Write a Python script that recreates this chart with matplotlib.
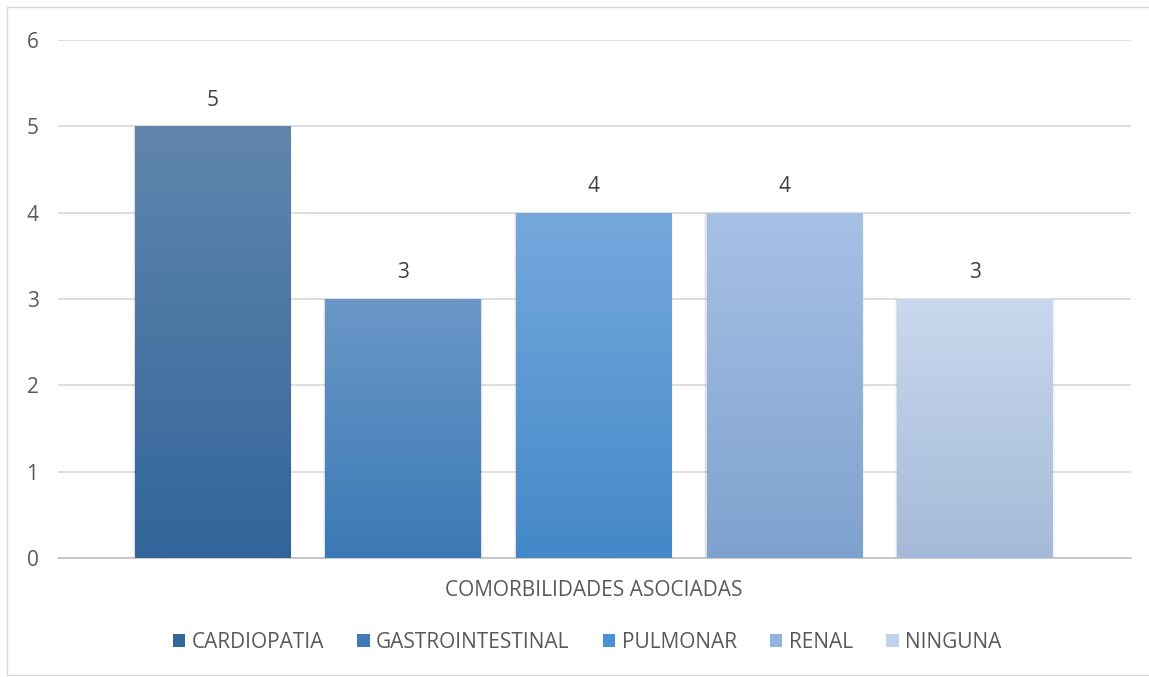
import numpy as np
import matplotlib.pyplot as plt
from matplotlib.colors import LinearSegmentedColormap
from matplotlib.patches import Patch, Rectangle

plt.rcParams['font.family'] = ['Open Sans', 'DejaVu Sans']

categories = ['CARDIOPATIA', 'GASTROINTESTINAL', 'PULMONAR', 'RENAL', 'NINGUNA']
values = [5, 3, 4, 4, 3]
top_colors = ['#6086ad', '#6a98c7', '#76a9dd', '#a7c1e5', '#c8d8ee']
bottom_colors = ['#32659a', '#3b79b6', '#4488c9', '#7ea2ce', '#a5bad8']
legend_colors = ['#336699', '#3e7bb7', '#4a90d5', '#93b2dc', '#c0d3ea']
axis_title = 'COMORBILIDADES ASOCIADAS'

text_color = '#595959'
fs = 14

fig = plt.figure(figsize=(11.49, 6.77), dpi=100)
fig.patches.append(Rectangle((7 / 1149, 2 / 677), 1.2, 1 - 9 / 677,
                             transform=fig.transFigure, fill=False,
                             edgecolor='#d9d9d9', linewidth=1))
ax = fig.add_axes([58 / 1149, 1 - 558 / 677, (1131 - 58) / 1149, (558 - 40) / 677])

width = 0.814
x = np.arange(len(categories))
grad = np.linspace(0, 1, 256).reshape(-1, 1)

for i, (v, c_top, c_bot) in enumerate(zip(values, top_colors, bottom_colors)):
    # soft shadow on the sides of each bar
    for k, a in enumerate([0.08, 0.04]):
        d = 0.006 * (k + 1)
        ax.add_patch(Rectangle((x[i] - width / 2 - d, 0), width + 2 * d, v,
                               facecolor='black', alpha=a, edgecolor='none', zorder=2))
    bar = ax.bar(x[i], v, width=width, color='none', zorder=3)[0]
    cmap = LinearSegmentedColormap.from_list('g%d' % i, [c_bot, c_top])
    im = ax.imshow(grad, cmap=cmap, origin='lower', aspect='auto',
                   extent=[x[i] - width / 2, x[i] + width / 2, 0, v], zorder=3)
    im.set_clip_path(bar)
    ax.text(x[i], v + 0.18, str(v), ha='center', va='bottom', fontsize=fs + 1, color='#404040')

ax.set_xlim(-0.81, 4.82)
ax.set_ylim(0, 6)
ax.set_yticks(range(0, 7))
ax.yaxis.grid(True, color='#d9d9d9', linewidth=1.2)
ax.set_axisbelow(True)
ax.set_xticks([])
ax.tick_params(axis='y', length=0, pad=14, labelsize=fs + 1, labelcolor=text_color)
for s in ['top', 'right', 'left']:
    ax.spines[s].set_visible(False)
ax.spines['bottom'].set_color('#bfbfbf')
ax.spines['bottom'].set_linewidth(1.2)

fig.text(594 / 1149, 1 - 590 / 677, axis_title, ha='center', va='center',
         fontsize=fs + 1, color=text_color)

handles = [Patch(facecolor=c, edgecolor='none') for c in legend_colors]
fig.legend(handles, categories, loc='center', bbox_to_anchor=(587 / 1149, 1 - 642 / 677),
           ncol=5, frameon=False, fontsize=fs + 1, labelcolor=text_color,
           handlelength=0.6, handleheight=0.6, handletextpad=0.3, columnspacing=1.6)

fig.savefig('out.png', dpi=100)
